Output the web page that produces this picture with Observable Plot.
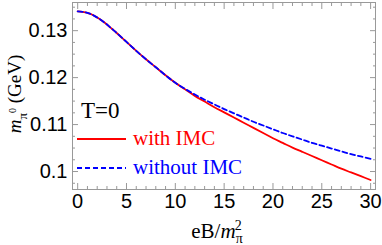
<!DOCTYPE html>
<html><head><meta charset="utf-8">
<script src="https://cdn.jsdelivr.net/npm/d3@7"></script>
<script src="https://cdn.jsdelivr.net/npm/@observablehq/plot@0.6"></script>
<style>body{margin:0;background:#fff}#c{position:relative;width:382px;height:245px}</style>
</head><body><div id="c"></div>
<script>
const eB = [0,0.5,1,1.5,2,2.5,3,3.5,4,5,6,7,8,9,10,11,12,13,14,15,16,17,18,19,20,21,22,23,24,25,26,27,28,29,30];
const withIMC = [0.1341,0.1340,0.1338,0.1334,0.1328,0.1321,0.1313,0.1304,0.1295,0.1276,0.1257,0.1239,0.1222,0.1205,0.1189,0.1175,0.1161,0.1149,0.1137,0.1126,0.1115,0.1104,0.1093,0.1082,0.1071,0.1061,0.1051,0.1042,0.1033,0.1024,0.1015,0.1006,0.0998,0.0990,0.0982];
const withoutIMC = [0.1341,0.1340,0.1338,0.1334,0.1328,0.1321,0.1313,0.1304,0.1295,0.1276,0.1257,0.1239,0.1222,0.1205,0.1189,0.1176,0.1164,0.1153,0.1143,0.1133,0.1124,0.1115,0.1106,0.1098,0.1090,0.1082,0.1075,0.1068,0.1061,0.1055,0.1049,0.1043,0.1037,0.1032,0.1027];
const xTicks = [0,5,10,15,20,25,30];
const yTicks = [0.10,0.11,0.12,0.13];
const yTickLabels = ["0.1","0.11","0.12","0.13"];
const seriesNames = ["with IMC","without IMC"];
const seriesColors = ["#ff0000","#0000ff"];

const red = eB.map((x,i)=>({x, y: withIMC[i]}));
const blue = eB.map((x,i)=>({x, y: withoutIMC[i]}));
const xMinor = d3.range(0,31,1).filter(v=>!xTicks.includes(v));
const yMinor = d3.range(0.0975,0.136,0.0025).map(v=>+v.toFixed(4)).filter(v=>!yTicks.some(t=>Math.abs(t-v)<1e-6));
const none = () => "";

const chart = Plot.plot({
  width:382, height:245,
  marginLeft:72, marginRight:7, marginTop:2, marginBottom:56,
  style:{fontFamily:"'Liberation Sans', Arial, sans-serif", fontSize:"20px", background:"#fff", color:"#000"},
  x:{domain:[-0.53,30.5]},
  y:{domain:[0.09617,0.1360]},
  marks:[
    Plot.frame({stroke:"#999"}),
    Plot.axisX(xTicks,{anchor:"bottom", tickSize:-6, tickPadding:10, tickFormat:d=>String(d), label:null, stroke:"#999", fill:"#000", fontSize:20}),
    Plot.axisX(xTicks,{anchor:"top", tickSize:-6, tickFormat:none, label:null, stroke:"#999"}),
    Plot.axisX(xMinor,{anchor:"bottom", tickSize:-3, tickFormat:none, label:null, stroke:"#999"}),
    Plot.axisX(xMinor,{anchor:"top", tickSize:-3, tickFormat:none, label:null, stroke:"#999"}),
    Plot.axisY(yTicks,{anchor:"left", tickSize:-6, tickPadding:11, tickFormat:d=>yTickLabels[yTicks.indexOf(d)], label:null, stroke:"#999", fill:"#000", fontSize:20}),
    Plot.axisY(yTicks,{anchor:"right", tickSize:-6, tickFormat:none, label:null, stroke:"#999"}),
    Plot.axisY(yMinor,{anchor:"left", tickSize:-3, tickFormat:none, label:null, stroke:"#999"}),
    Plot.axisY(yMinor,{anchor:"right", tickSize:-3, tickFormat:none, label:null, stroke:"#999"}),
    Plot.line(red,{x:"x", y:"y", stroke:seriesColors[0], strokeWidth:1.8, curve:"catmull-rom"}),
    Plot.line(blue,{x:"x", y:"y", stroke:seriesColors[1], strokeWidth:1.8, strokeDasharray:"5,3", curve:"catmull-rom"})
  ]
});
document.getElementById("c").appendChild(chart);

// annotations: axis labels and legend
const svg = d3.select(chart);
const serif = "'Liberation Serif','Times New Roman',serif";
const xl = svg.append("text").attr("x",217).attr("y",238).attr("text-anchor","middle")
  .attr("font-family",serif).attr("font-size",21).attr("fill","#000");
xl.append("tspan").text("eB/");
xl.append("tspan").attr("font-style","italic").text("m");
xl.append("tspan").attr("font-size",14).attr("dy",5).text("π");
xl.append("tspan").attr("font-size",14).attr("dy",-13).attr("dx",-8).text("2");
const yl = svg.append("text").attr("transform","translate(21,94) rotate(-90)").attr("text-anchor","middle")
  .attr("font-family",serif).attr("font-size",19).attr("fill","#000");
yl.append("tspan").attr("font-style","italic").text("m");
yl.append("tspan").attr("font-size",13).attr("dy",6).text("π");
yl.append("tspan").attr("font-size",10).attr("dy",-11).text("0");
yl.append("tspan").attr("dy",5).text(" (GeV)");
svg.append("text").attr("x",81).attr("y",118).attr("text-anchor","start").attr("font-family",serif).attr("font-size",23).attr("fill","#000").text("T=0");
const ly = [139,168];
seriesNames.forEach((n,i)=>{
  svg.append("line").attr("x1",77).attr("x2",126).attr("y1",ly[i]).attr("y2",ly[i])
    .attr("stroke",seriesColors[i]).attr("stroke-width",1.8).attr("stroke-dasharray",i?"5,3":null);
  svg.append("text").attr("x",133).attr("y",ly[i]+6).attr("text-anchor","start").attr("font-family",serif).attr("font-size",21)
    .attr("fill",seriesColors[i]).text(n);
});
</script></body></html>
